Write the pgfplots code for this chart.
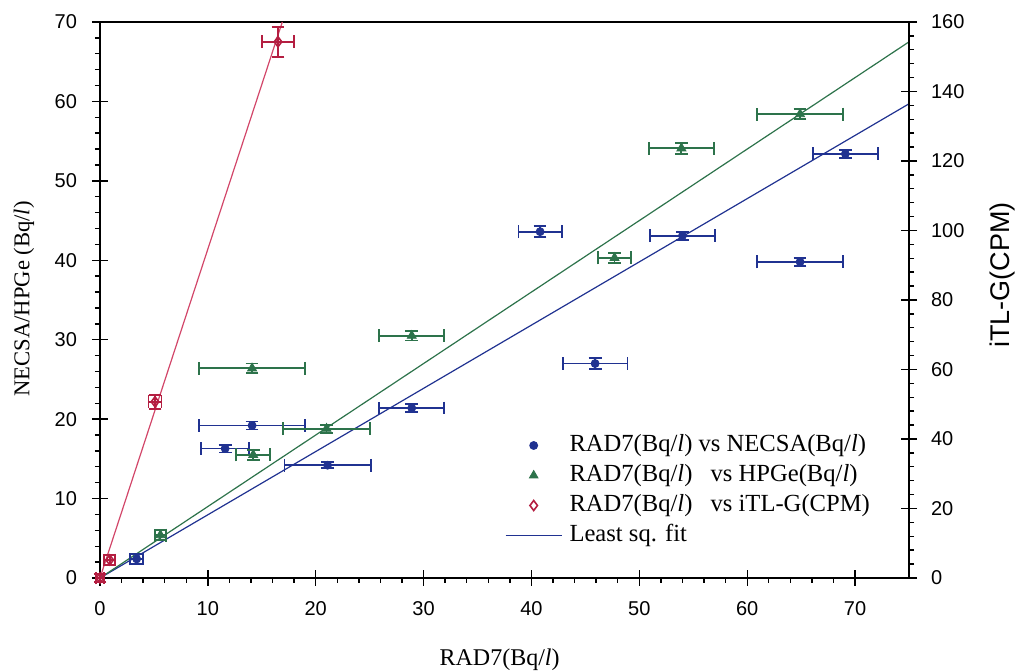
\documentclass[border=0pt]{standalone}
\usepackage{pgfplots}
\pgfplotsset{compat=1.18}
\usepackage{pgfplotstable}
\usepackage{fontspec}
\setmainfont{Liberation Serif}
\newfontfamily\tsans{Liberation Sans}
\definecolor{cblue}{RGB}{32,50,145}
\definecolor{cgreen}{RGB}{45,115,75}
\definecolor{cred}{RGB}{180,30,65}
\definecolor{credl}{RGB}{210,70,105}

\pgfplotstableread{
x y ex ey
3.4 2.4 0.6 0.6
11.6 16.3 2.2 0.5
14.1 19.2 4.9 0.5
21.1 14.2 4.0 0.4
28.9 21.4 3.0 0.5
40.8 43.6 2.0 0.7
45.9 27.0 3.0 0.7
54.0 43.1 3.0 0.5
64.9 39.8 4.0 0.5
69.1 53.4 3.0 0.5
}\necsa
\pgfplotstableread{
x y ex ey
5.6 5.4 0.5 0.6
14.2 15.5 1.6 0.6
14.1 26.4 4.9 0.6
21.0 18.8 4.0 0.5
28.9 30.5 3.0 0.6
47.7 40.3 1.5 0.6
53.9 54.1 3.0 0.7
64.9 58.4 4.0 0.6
}\hpge
\pgfplotstableread{
x y ex ey
0.0 0.0 0.4 1.2
0.9 5.2 0.5 1.4
5.1 50.7 0.6 2.0
16.5 154.3 1.45 4.3
}\itlg

\pgfplotsset{common/.style={
  scale only axis, width=404.5pt, height=278pt,
  xmin=0, xmax=75,
  tick align=center, major tick length=8pt, minor tick length=2.5pt,
  tick style={black, line width=0.7pt},
  axis line style={line width=1pt},
  tick label style={font=\tsans\fontsize{10}{12}\selectfont},
  /pgf/number format/assume math mode=true,
  label style={font=\fontsize{12}{14}\selectfont},
  clip=false,
}}

\begin{document}
\begin{tikzpicture}
\begin{axis}[common, name=ax, ymin=0, ymax=70,
  xtick={0,10,...,70}, ytick={0,10,...,70},
  minor x tick num=4, minor y tick num=4,
  xtick pos=bottom, ytick pos=left,
  minor x tick style={yshift=-1.25pt}, minor y tick style={xshift=-1.25pt},
  xticklabel style={yshift=-4pt}, yticklabel style={xshift=-4pt},
  xlabel={RAD7(Bq/\textit{l})}, ylabel={NECSA/HPGe (Bq/\textit{l})},
  xlabel style={at={(axis description cs:0.494,-0.147)}, anchor=center},
  ylabel style={at={(axis description cs:-0.094,0.502)}, anchor=center, font=\fontsize{11.3}{13}\selectfont},
]
\addplot[cblue, line width=0.6pt] coordinates {(0,0) (75,59.7)};
\addplot[cgreen, line width=0.6pt] coordinates {(0,0) (75,67.5)};
\addplot[cblue, only marks, mark=*, mark size=2pt,
  error bars/.cd, x dir=both, x explicit, y dir=both, y explicit,
  error bar style={line width=0.95pt, cblue},
  error mark options={rotate=90, mark size=3.2pt, line width=0.95pt, cblue}]
  table[x=x, y=y, x error=ex, y error=ey] {\necsa};
\addplot[cgreen, only marks, mark=triangle*, mark size=2.6pt,
  error bars/.cd, x dir=both, x explicit, y dir=both, y explicit,
  error bar style={line width=0.95pt, cgreen},
  error mark options={rotate=90, mark size=3.2pt, line width=0.95pt, cgreen}]
  table[x=x, y=y, x error=ex, y error=ey] {\hpge};
\end{axis}
\begin{axis}[common, ymin=0, ymax=160,
  axis x line=none, axis y line*=right,
  ytick={0,20,...,160}, minor y tick num=4,
  tick align=center,
  minor y tick style={xshift=1.25pt},
  yticklabel style={xshift=3.5pt},
  ylabel={iTL-G(CPM)},
  ylabel style={at={(axis description cs:1.115,0.545)}, anchor=center, font=\tsans\fontsize{13.5}{15}\selectfont},
  legend style={at={(axis description cs:0.500,0.266)}, anchor=north west, draw=none, fill=none,
    inner sep=0pt, row sep=0pt, column sep=2pt, font=\fontsize{12.3}{14}\selectfont,
    nodes={inner sep=1.5pt, text height=9pt, text depth=3pt}},
  legend cell align=left,
]
\addplot[credl, line width=0.6pt, forget plot] coordinates {(0,0) (16.9,160)};
\addplot[cred, only marks, mark=diamond, mark size=2.5pt, mark options={line width=0.8pt, fill=white}, forget plot,
  error bars/.cd, x dir=both, x explicit, y dir=both, y explicit,
  error bar style={line width=0.95pt, cred},
  error mark options={rotate=90, mark size=3.2pt, line width=0.95pt, cred}]
  table[x=x, y=y, x error=ex, y error=ey] {\itlg};
\addlegendimage{legend image code/.code={\draw[cblue,fill=cblue,mark=*,mark size=2pt,only marks] plot coordinates {(14pt,0pt)};}}
\addlegendentry{RAD7(Bq/\textit{l}) vs NECSA(Bq/\textit{l})}
\addlegendimage{legend image code/.code={\draw[cgreen,fill=cgreen,mark=triangle*,mark size=2.5pt,only marks] plot coordinates {(14pt,0pt)};}}
\addlegendentry{RAD7(Bq/\textit{l})\hspace{6pt} vs HPGe(Bq/\textit{l})}
\addlegendimage{legend image code/.code={\draw[cred,mark=diamond,mark size=2.5pt,only marks,line width=0.8pt] plot coordinates {(14pt,0pt)};}}
\addlegendentry{RAD7(Bq/\textit{l})\hspace{6pt} vs iTL-G(CPM)}
\addlegendimage{legend image code/.code={\draw[draw=cblue,line width=0.8pt] (0pt,0pt) -- (28pt,0pt);}}
\addlegendentry{Least sq. fit}
\end{axis}
\pgfresetboundingbox
\path ([shift={(-50pt,-47pt)}]ax.south west) rectangle ([shift={(55pt,11pt)}]ax.north east);
\end{tikzpicture}
\end{document}
